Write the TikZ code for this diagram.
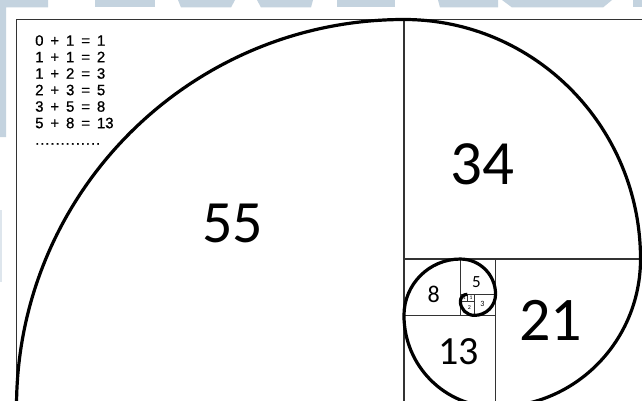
\documentclass[tikz,border=0pt]{standalone}
\usepackage{fontspec}
\setmainfont{Carlito}
\newfontfamily\eqfont[WordSpace=1.65,FakeBold=0.8]{Liberation Sans}
\newfontfamily\dotfont[LetterSpace=6,FakeBold=0.8]{Liberation Sans}
\definecolor{wm}{RGB}{196,211,223}
\definecolor{wmlight}{RGB}{222,230,237}
\begin{document}
\begin{tikzpicture}[x=1pt,y=1pt,
  sq/.style={draw=black!80, line width=1.1pt},
  spiral/.style={draw=black, line width=3.2pt},
  num/.style={inner sep=0pt, anchor=center, text=black},
  eq/.style={inner sep=0pt, anchor=base west, text=black,
    font=\eqfont\fontsize{15}{16}\selectfont}]
\useasboundingbox (0,0) rectangle (642,400);
\fill[white] (0,0) rectangle (642,400);
% watermark remnants
\fill[wm] (0,400) -- (48,400) -- (48,392.5) -- (6,392.5) -- (6,263) -- (0,263) -- cycle;
\fill[wmlight] (0,190) rectangle (2,118);
\fill[wm] (95,400) -- (155,400) -- (155,392.5) -- (95,392.5) -- cycle;
\fill[wm] (178,400) -- (235,400) -- (231,392.5) -- (181,392.5) -- cycle;
\fill[wm] (257,400) -- (313,400) -- (311,392.5) -- (261,392.5) -- cycle;
\fill[wm] (337,400) -- (395,400) -- (395,392.5) -- (337,392.5) -- cycle;
\fill[wm] (438,400) -- (498,400) -- (498,392.5) -- (440,392.5) -- cycle;
\fill[wm] (502,400) -- (612,400) -- (603,392.5) -- (512,392.5) -- cycle;
\fill[wm] (633,400) -- (642,400) -- (642,392.5) -- (633,392.5) -- cycle;
% squares
\draw[sq] (16.5,380.5) rectangle (404.0,-6.975);     % 55
\draw[sq] (404.0,380.5) rectangle (643.5,140.97);    % 34
\draw[sq] (495.56,140.97) rectangle (643.5,-6.975);  % 21
\draw[sq] (404.0,84.61) rectangle (495.56,-6.975);   % 13
\draw[sq] (404.0,140.97) rectangle (460.335,84.61);  % 8
\draw[sq] (460.335,140.97) rectangle (495.56,105.745); % 5
\draw[sq] (474.425,105.745) rectangle (495.56,84.61);  % 3
\draw[sq] (460.335,98.7) rectangle (474.425,84.61);    % 2
\draw[sq] (460.335,105.745) rectangle (467.38,98.7);   % 1
\draw[sq] (467.38,105.745) rectangle (474.425,98.7);   % 1
% spiral
\coordinate (s0) at (16.5,-6.975);
\draw[spiral, line join=round]
  (s0) arc[start angle=180, end angle=90, radius=387.475pt]
       arc[start angle=90, end angle=0, x radius=236.53pt, y radius=239.53pt]
       arc[start angle=0, end angle=-90, x radius=144.945pt, y radius=147.945pt]
       arc[start angle=-90, end angle=-180, radius=91.585pt]
       arc[start angle=180, end angle=90, radius=56.36pt]
       arc[start angle=90, end angle=0, radius=35.225pt]
       arc[start angle=0, end angle=-90, radius=21.135pt]
       arc[start angle=-90, end angle=-180, radius=14.09pt]
       arc[start angle=180, end angle=90, radius=7.045pt];
% numbers
\node[num, font=\fontsize{60}{60}\selectfont] (n55) at (232.5,176.5) {55};
\node[num, font=\fontsize{63}{63}\selectfont] (n34) at (482.5,236.2) {34};
\node[num, font=\fontsize{62}{62}\selectfont] (n21) at (550.5,79.5) {21};
\node[num, font=\fontsize{40}{40}\selectfont] (n13) at (458.5,48) {13};
\node[num, font=\fontsize{24}{24}\selectfont] (n8) at (433.8,105.5) {8};
\node[num, font=\fontsize{17}{17}\selectfont] (n5) at (476.5,118) {5};
\node[num, font=\fontsize{8}{8}\selectfont] (n3) at (482.5,96.5) {3};
\node[num, font=\fontsize{6}{6}\selectfont] (n2) at (469.5,92.5) {2};
\node[num, font=\fontsize{5.5}{5.5}\selectfont] (n1a) at (464.2,102.2) {1};
\node[num, font=\fontsize{5.5}{5.5}\selectfont] (n1b) at (470.9,102.2) {1};
% equations
\node[eq] (e1) at (35,354.3) {0 + 1 = 1};
\node[eq] (e2) at (35,337.8) {1 + 1 = 2};
\node[eq] (e3) at (35,321.3) {1 + 2 = 3};
\node[eq] (e4) at (35,304.8) {2 + 3 = 5};
\node[eq] (e5) at (35,288.3) {3 + 5 = 8};
\node[eq] (e6) at (35,271.8) {5 + 8 = 13};
\node[eq, font=\dotfont\fontsize{15}{16}\selectfont] (e7) at (35,255.3) {.............};
\end{tikzpicture}
\end{document}
